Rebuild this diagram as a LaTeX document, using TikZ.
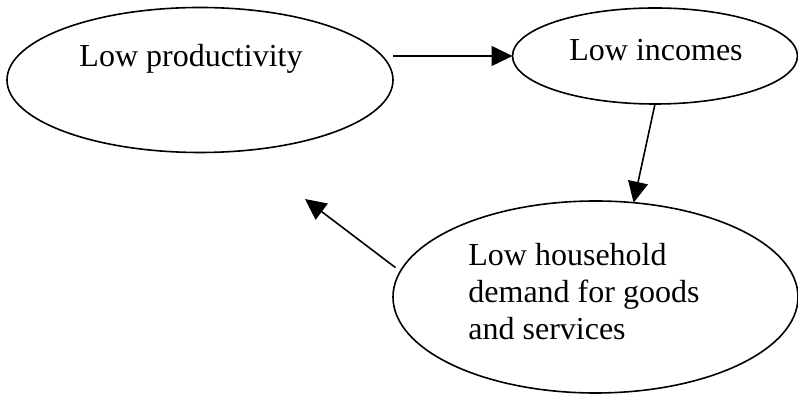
\documentclass[tikz,border=0pt]{standalone}
\usepackage{fontspec}
\setmainfont{Liberation Serif}
\usepackage{tikz}
\usetikzlibrary{calc, positioning, shapes.geometric, arrows.meta}

\tikzset{
  oval/.style={draw=black, ellipse, line width=0.8pt, inner sep=0pt, outer sep=0pt},
  lbl/.style={inner sep=0pt, font=\fontsize{16}{18.5}\selectfont},
  flow/.style={line width=0.8pt, -{Triangle[length=10.5pt, width=10pt]}}
}

\begin{document}
\begin{tikzpicture}[x=0.5pt, y=-0.5pt]
        \useasboundingbox (0,0) rectangle (798,394);
        \node[oval, minimum width=193pt, minimum height=72.5pt] (prod) at (200,80) {};
        \node[oval, minimum width=142.5pt, minimum height=48pt] (inc) at (655,56) {};
        \node[oval, minimum width=202.5pt, minimum height=96pt] (dem) at (595.5,297) {};
        \node[lbl, anchor=base] (prodtxt) at (191,67) {Low productivity};
        \node[lbl, anchor=base] (inctxt) at (656,61) {Low incomes};
        \node[lbl, anchor=base west, align=left] (demtxt) at (468,340)
          {Low household\\demand for goods\\and services};
        \coordinate (back) at (305,199);
        \draw[flow] (prod.east |- inc.west) -- (inc.west);
        \draw[flow] (inc.south) -- (dem.68);
        \draw[flow] ([shift={(-8,1)}]dem.171) -- (back);
      \end{tikzpicture}
\end{document}
